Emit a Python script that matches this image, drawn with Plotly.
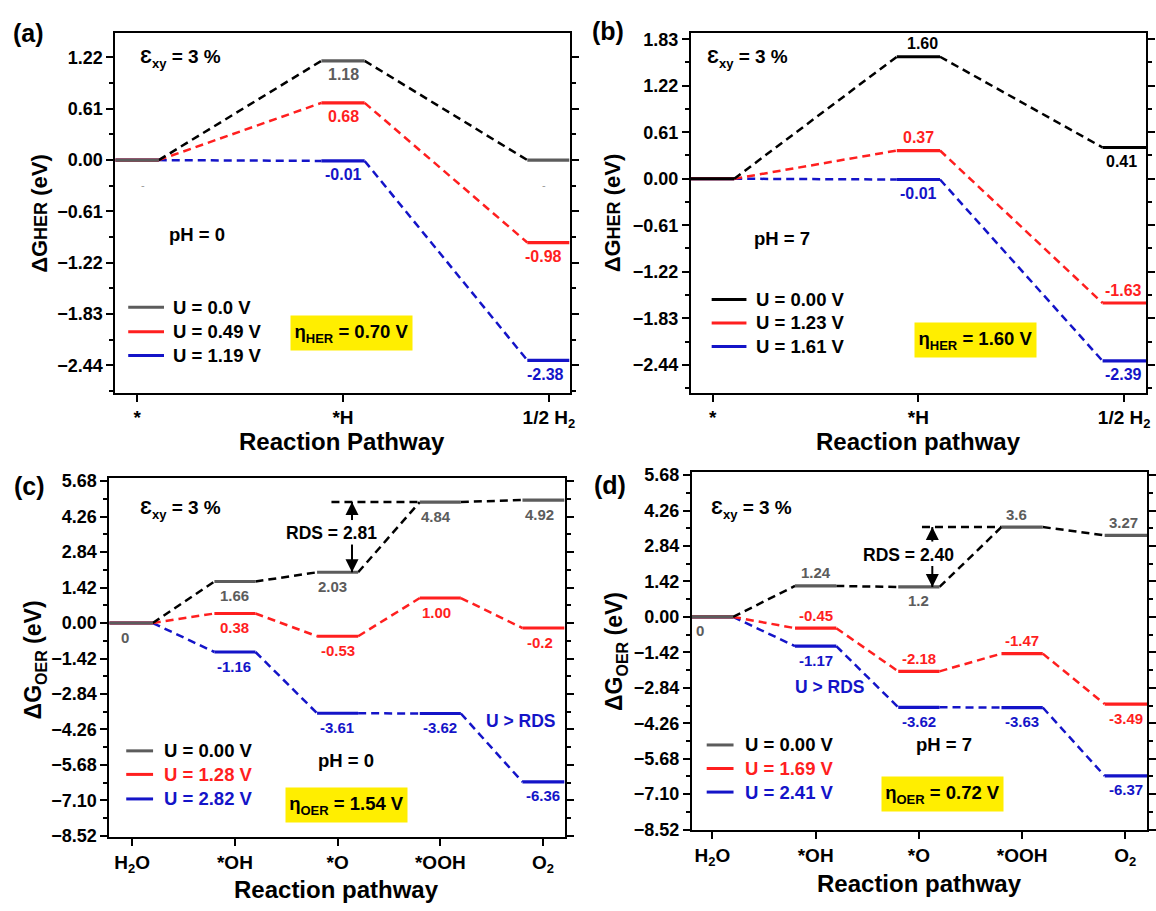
import plotly.graph_objects as go

W, H = 1156, 911
FONT = "Liberation Sans, Arial, sans-serif"


def sub(t, size, shift):
    return f"<span style='font-size:{size}px;baseline-shift:-{shift}px'>{t}</span>"


# ---------------- data ----------------
cats_her = ["*", "*H", "1/2 H" + sub("2", 13, 4)]
cats_oer = ["H" + sub("2", 13, 4) + "O", "*OH", "*O", "*OOH", "O" + sub("2", 13, 4)]

a_U0 = [0.0, 1.18, 0.0]
a_U1 = [0.0, 0.68, -0.98]
a_U2 = [0.0, -0.01, -2.38]
a_names = ["U = 0.0 V", "U = 0.49 V", "U = 1.19 V"]

b_U0 = [0.0, 1.60, 0.41]
b_U1 = [0.0, 0.37, -1.63]
b_U2 = [0.0, -0.01, -2.39]
b_names = ["U = 0.00 V", "U = 1.23 V", "U = 1.61 V"]

c_U0 = [0.0, 1.66, 2.03, 4.84, 4.92]
c_U1 = [0.0, 0.38, -0.53, 1.00, -0.2]
c_U2 = [0.0, -1.16, -3.61, -3.62, -6.36]
c_names = ["U = 0.00 V", "U = 1.28 V", "U = 2.82 V"]

d_U0 = [0.0, 1.24, 1.2, 3.6, 3.27]
d_U1 = [0.0, -0.45, -2.18, -1.47, -3.49]
d_U2 = [0.0, -1.17, -3.62, -3.63, -6.37]
d_names = ["U = 0.00 V", "U = 1.69 V", "U = 2.41 V"]

# value labels: (series index, point index, text, above?, x-shift px)
a_labels = [(0, 1, "1.18", False, 0), (1, 1, "0.68", False, 0), (1, 2, "-0.98", False, -5),
            (2, 1, "-0.01", False, 0), (2, 2, "-2.38", False, -3)]
b_labels = [(0, 1, "1.60", True, 4), (0, 2, "0.41", False, -3), (1, 1, "0.37", True, 0),
            (1, 2, "-1.63", True, -1), (2, 1, "-0.01", False, 0), (2, 2, "-2.39", False, -1)]
c_labels = [(0, 0, "0", False, -7), (0, 1, "1.66", False, 0), (0, 2, "2.03", False, -5),
            (0, 3, "4.84", False, -4), (0, 4, "4.92", False, -3),
            (1, 1, "0.38", False, 0), (1, 2, "-0.53", False, 0), (1, 3, "1.00", False, -4),
            (1, 4, "-0.2", False, -3),
            (2, 1, "-1.16", False, -1), (2, 2, "-3.61", False, -1), (2, 3, "-3.62", False, 0),
            (2, 4, "-6.36", False, 0)]
d_labels = [(0, 0, "0", False, -12), (0, 1, "1.24", True, 0), (0, 2, "1.2", False, 0),
            (0, 3, "3.6", True, -6), (0, 4, "3.27", True, -2),
            (1, 1, "-0.45", True, 0), (1, 2, "-2.18", True, 0), (1, 3, "-1.47", True, 0),
            (1, 4, "-3.49", False, 1),
            (2, 1, "-1.17", False, 0), (2, 2, "-3.62", False, 0), (2, 3, "-3.63", False, 0),
            (2, 4, "-6.37", False, 1)]

# ---------------- style ----------------
GRAY = "#5c5c5c"
RED = "#ff1f1f"
BLUE = "#1414c8"
BLACK = "#000000"
DASH = "8px,5px"


def px(x, y):
    return x / W, 1 - y / H


fig = go.Figure()

panels = [
    dict(key="", vals=[a_U0, a_U1, a_U2], names=a_names, labels=a_labels, cats=cats_her,
         xdom=(116, 573), ydom=(27, 393), xr=[-0.106, 2.10], yr=[-2.765, 1.505],
         dtick=0.61, hw=0.105, lvl0=GRAY, lab0=GRAY, colored=False, lsize=16,
         leg=dict(l0=129, l1=165, tx=172, ys=[306, 331, 355])),
    dict(key="2", vals=[b_U0, b_U1, b_U2], names=b_names, labels=b_labels, cats=cats_her,
         xdom=(695, 1153), ydom=(26, 393), xr=[-0.106, 2.106], yr=[-2.806, 1.918],
         dtick=0.61, hw=0.105, lvl0=BLACK, lab0=BLACK, colored=False, lsize=16,
         leg=dict(l0=716, l1=751, tx=759, ys=[298, 322, 346])),
    dict(key="3", vals=[c_U0, c_U1, c_U2], names=c_names, labels=c_labels, cats=cats_oer,
         xdom=(110, 568), ydom=(480, 846), xr=[-0.223, 4.21], yr=[-8.57, 5.80],
         dtick=1.42, hw=0.2, lvl0=GRAY, lab0=GRAY, colored=True, lsize=15,
         leg=dict(l0=127, l1=154, tx=163, ys=[758, 782, 807])),
    dict(key="4", vals=[d_U0, d_U1, d_U2], names=d_names, labels=d_labels, cats=cats_oer,
         xdom=(696, 1154), ydom=(474, 839), xr=[-0.2, 4.21], yr=[-8.55, 5.80],
         dtick=1.42, hw=0.2, lvl0=GRAY, lab0=GRAY, colored=True, lsize=15,
         leg=dict(l0=711, l1=738, tx=748, ys=[752, 776, 800])),
]

annotations = []
shapes = []
layout_extra = {}


def pap(text, x, y, size, color="black", **kw):
    xx, yy = px(x, y)
    d = dict(x=xx, y=yy, xref="paper", yref="paper", text=text, showarrow=False,
             xanchor="center", yanchor="middle",
             font=dict(family=FONT, size=size, color=color, weight="bold"))
    d.update(kw)
    annotations.append(d)


for p in panels:
    k = p["key"]
    xa, ya = "x" + k, "y" + k
    hw = p["hw"]
    lvl_cols = [p["lvl0"], RED, BLUE]
    conn_cols = [BLACK, RED, BLUE]
    lab_cols = [p["lab0"], RED, BLUE]
    # draw blue first, gray/black last (on top)
    for s in [2, 1, 0]:
        v = p["vals"][s]
        n = len(v)
        cx, cy = [], []
        for i in range(n - 1):
            cx += [i + hw, i + 1 - hw, None]
            cy += [v[i], v[i + 1], None]
        fig.add_trace(go.Scatter(x=cx, y=cy, mode="lines", xaxis=xa, yaxis=ya,
                                 line=dict(color=conn_cols[s], width=2.5, dash=DASH),
                                 showlegend=False, hoverinfo="skip"))
        lx, ly = [], []
        for i in range(n):
            x0 = p["xr"][0] if i == 0 else i - hw
            x1 = p["xr"][1] if i == n - 1 else i + hw
            lx += [x0, x1, None]
            ly += [v[i], v[i], None]
        fig.add_trace(go.Scatter(x=lx, y=ly, mode="lines", xaxis=xa, yaxis=ya,
                                 line=dict(color=lvl_cols[s], width=3.2),
                                 name=p["names"][s], showlegend=False, hoverinfo="skip"))
    # value labels
    for (s, i, txt, above, dx) in p["labels"]:
        annotations.append(dict(x=i, y=p["vals"][s][i], xref=xa, yref=ya, text=txt,
                                showarrow=False, xanchor="center", yanchor="middle",
                                yshift=13 if above else -14, xshift=dx,
                                font=dict(family=FONT, size=p["lsize"], color=lab_cols[s],
                                          weight="bold")))
    # manual legend
    lg = p["leg"]
    for s in range(3):
        yy = 1 - lg["ys"][s] / H
        shapes.append(dict(type="line", xref="paper", yref="paper", x0=lg["l0"] / W,
                           x1=lg["l1"] / W, y0=yy, y1=yy,
                           line=dict(color=lvl_cols[s], width=3)))
        tcol = [BLACK, RED, BLUE][s] if p["colored"] else BLACK
        pap(p["names"][s], lg["tx"], lg["ys"][s], 18.5, color=tcol, xanchor="left")
    # axes
    x0, x1 = p["xdom"]
    y0, y1 = p["ydom"]
    xaxis = dict(domain=[x0 / W, x1 / W], range=p["xr"], anchor=ya,
                 tickmode="array", tickvals=list(range(len(p["cats"]))), ticktext=p["cats"],
                 showline=True, linewidth=2, linecolor="black", mirror=True,
                 ticks="outside", ticklen=7, tickwidth=2, tickcolor="black",
                 showgrid=False, zeroline=False,
                 tickfont=dict(family=FONT, size=19, color="black", weight="bold"))
    yaxis = dict(domain=[1 - y1 / H, 1 - y0 / H], range=p["yr"], anchor=xa,
                 tick0=0, dtick=p["dtick"], tickformat=".2f",
                 showline=True, linewidth=2, linecolor="black", mirror="ticks",
                 ticks="outside", ticklen=7, tickwidth=2, tickcolor="black",
                 minor=dict(ticks="outside", ticklen=4, tickwidth=1.5, tickcolor="black",
                            tick0=0, dtick=p["dtick"] / 2),
                 showgrid=False, zeroline=False,
                 tickfont=dict(family=FONT, size=18, color="black", weight="bold"))
    layout_extra["xaxis" + k] = xaxis
    layout_extra["yaxis" + k] = yaxis

# small gray marks in (a)
for (i, dx) in [(0, 6), (2, -5)]:
    annotations.append(dict(x=i, y=a_U0[i], xref="x", yref="y", text="-", showarrow=False,
                            yshift=-25, xshift=dx,
                            font=dict(family=FONT, size=11, color="#999999")))

# panel letters
pap("(a)", 29, 27, 25)
pap("(b)", 612, 24, 25)
pap("(c)", 30, 488, 25)
pap("(d)", 614, 487, 25)

# strain labels
for (x, y) in [(139, 52), (709, 52), (139, 512), (713, 512)]:
    pap("Ɛ" + sub("xy", 13, 5) + " = 3 %", x, y, 19, xanchor="left")

# pH labels
pap("pH = 0", 198, 232, 18.5)
pap("pH = 7", 787, 236, 18.5)
pap("pH = 0", 348, 768, 18.5)
pap("pH = 7", 950, 752, 18.5)

# overpotential boxes
for (txt, x, y) in [("η" + sub("HER", 13, 5) + " = 0.70 V", 353.5, 332.5),
                    ("η" + sub("HER", 13, 5) + " = 1.60 V", 981, 339.5),
                    ("η" + sub("OER", 13, 5) + " = 1.54 V", 348.5, 813.5),
                    ("η" + sub("OER", 13, 5) + " = 0.72 V", 948.5, 802)]:
    pap(txt, x, y, 18.5, bgcolor="#ffee00", width=119, height=32, borderpad=1)

# U > RDS
pap("U > RDS", 524, 728, 17.5, color=BLUE)
pap("U > RDS", 835, 693, 17.5, color=BLUE)

# axis titles
pap("Reaction Pathway", 344, 443, 24)
pap("Reaction pathway", 924, 443, 24)
pap("Reaction pathway", 339, 899, 24)
pap("Reaction pathway", 925, 893, 24)
pap("ΔG<span style='font-size:18px'>HER</span> (eV)", 39, 210, 22, textangle=-90)
pap("ΔG<span style='font-size:18px'>HER</span> (eV)", 616, 210, 22, textangle=-90)
pap("ΔG" + sub("OER", 16, 6) + " (eV)", 35, 665, 23, textangle=-90)
pap("ΔG" + sub("OER", 16, 6) + " (eV)", 619, 657, 23, textangle=-90)

# RDS markers (c) and (d)
for (k, vals, xs, xarrow, tail_up, tail_dn, txt, tx, ty) in [
        ("3", c_U0, 1.94, 2.14, 4.12, 3.14, "RDS = 2.81", 1.94, 3.6),
        ("4", d_U0, 2.03, 2.13, 3.02, 2.04, "RDS = 2.40", 1.90, 2.5)]:
    xa, ya = "x" + k, "y" + k
    shapes.append(dict(type="line", xref=xa, yref=ya, x0=xs, x1=3 - 0.2, y0=vals[3], y1=vals[3],
                       line=dict(color="black", width=2.5, dash=DASH)))
    fig.add_trace(go.Scatter(x=[xarrow, xarrow, None, xarrow, xarrow],
                             y=[tail_up, vals[3], None, tail_dn, vals[2]],
                             mode="lines", xaxis=xa, yaxis=ya, showlegend=False,
                             line=dict(color="black", width=2), hoverinfo="skip"))
    fig.add_trace(go.Scatter(x=[xarrow, xarrow], y=[vals[3], vals[2]], mode="markers",
                             xaxis=xa, yaxis=ya, showlegend=False, hoverinfo="skip",
                             marker=dict(symbol=["arrow-up", "arrow-down"], size=13,
                                         color="black", line=dict(width=0))))
    annotations.append(dict(x=tx, y=ty, xref=xa, yref=ya, text=txt, showarrow=False,
                            font=dict(family=FONT, size=17.5, color="black", weight="bold")))

fig.update_layout(width=W, height=H, margin=dict(l=0, r=0, t=0, b=0),
                  paper_bgcolor="white", plot_bgcolor="white",
                  showlegend=False, annotations=annotations, shapes=shapes,
                  font=dict(family=FONT, color="black"), **layout_extra)

fig.write_html("out.html")
